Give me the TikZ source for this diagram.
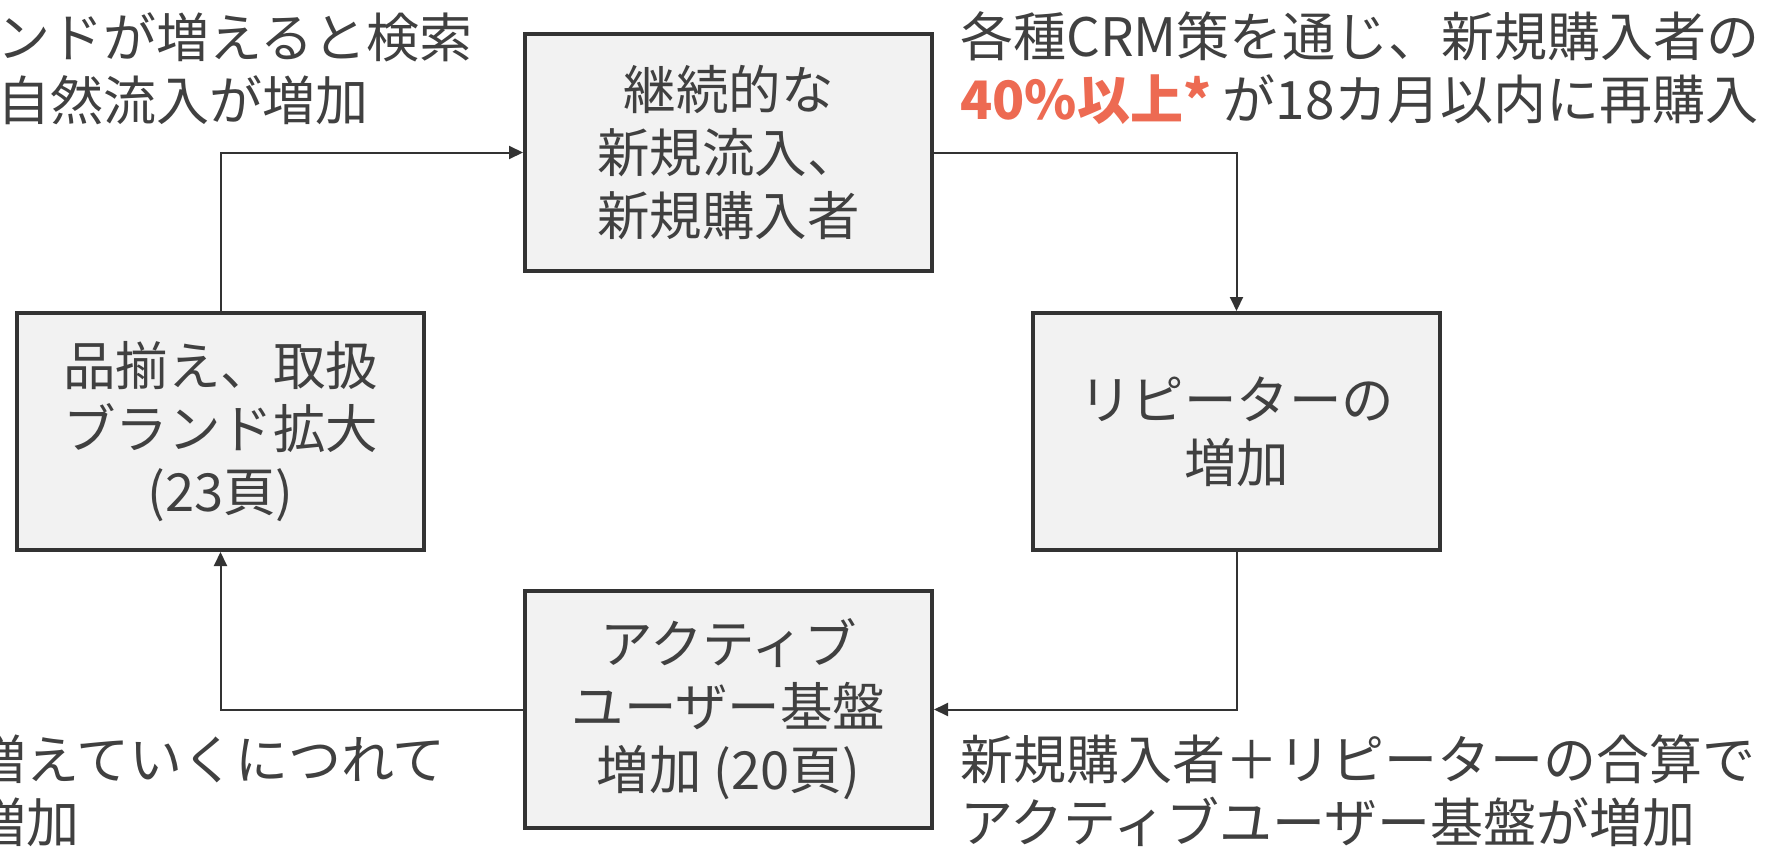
\documentclass[tikz,border=0pt]{standalone}
\usepackage{fontspec}
\setmainfont{Noto Sans CJK JP}
\usetikzlibrary{arrows.meta}
\definecolor{boxfill}{HTML}{F2F2F2}
\definecolor{dark}{HTML}{333333}
\definecolor{txt}{HTML}{404040}
\definecolor{accent}{RGB}{237,106,82}
\begin{document}
\begin{tikzpicture}[x=1pt,y=-1pt,
  stepbox/.style={draw=dark, line width=4pt, fill=boxfill, minimum width=407pt, minimum height=237pt, inner sep=0pt, align=center, text=txt, font=\fontsize{52.5}{63}\selectfont},
  flow/.style={draw=dark, line width=2pt, -{Triangle[length=14pt,width=13pt]}},
  note/.style={anchor=west, inner sep=0pt, align=left, text=txt, font=\fontsize{53}{63}\selectfont}]
\useasboundingbox[fill=white] (0,0) rectangle (1791,854);
\node[stepbox] (L) at (220.5,431.5) {品揃え、取扱\\ブランド拡大\\(23頁)};
\node[stepbox] (T) at (728.5,152.5) {継続的な\\新規流入、\\新規購入者};
\node[stepbox] (R) at (1236.5,431.5) {リピーターの\\増加};
\node[stepbox] (B) at (728.5,709.5) {アクティブ\\ユーザー基盤\\増加 (20頁)};
\draw[flow] (L.north) |- (T.west);
\draw[flow] (T.east) -| (R.north);
\draw[flow] (R.south) |- (B.east);
\draw[flow] (B.west) -| (L.south);
\node[note] (n1) at (-3,68.5) {ンドが増えると検索\\自然流入が増加};
\node[note] (n2) at (960,68.5) {各種CRM策を通じ、新規購入者の\\{\bfseries\color{accent}40\%以上*} が18カ月以内に再購入};
\node[note] (n3) at (-27,791) {増えていくにつれて\\増加};
\node[note] (n4) at (960,791) {新規購入者＋リピーターの合算で\\アクティブユーザー基盤が増加};
\end{tikzpicture}
\end{document}
